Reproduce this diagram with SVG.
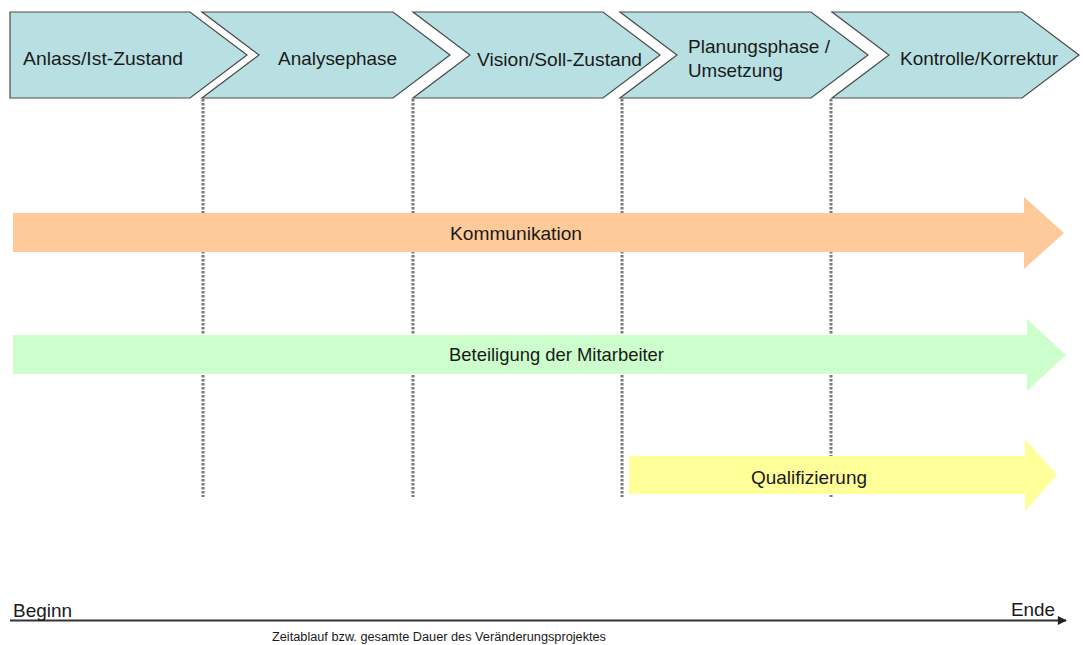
<svg xmlns="http://www.w3.org/2000/svg" width="1083" height="645" viewBox="0 0 1083 645">
<defs>
<style>
.chev{fill:#B8DFE2;stroke:#4a4a4a;stroke-width:1.2;}
.lbl{font-family:"Liberation Sans",Arial,sans-serif;font-size:18.5px;fill:#1a1a1a;}
.small{font-family:"Liberation Sans",Arial,sans-serif;font-size:12.5px;fill:#1a1a1a;}
.dot{stroke:#7a7a7a;stroke-width:3;stroke-dasharray:2.5 1.5;fill:none;}
</style>
<marker id="ah" viewBox="0 0 10 10" refX="9" refY="5" markerWidth="10" markerHeight="9" markerUnits="userSpaceOnUse" orient="auto">
<path d="M0,0 L10,5 L0,10 Z" fill="#222"/>
</marker>
</defs>
<rect width="1083" height="645" fill="#fff"/>
<g id="connectors">
<line class="dot" x1="203" y1="99" x2="203" y2="497"/>
<line class="dot" x1="413" y1="99" x2="413" y2="497"/>
<line class="dot" x1="622" y1="99" x2="622" y2="497"/>
<line class="dot" x1="831" y1="99" x2="831" y2="497"/>
</g>
<g id="phase1">
<polygon class="chev" points="10,12 190,12 247,55 190,98 10,98"/>
<text class="lbl" x="23" y="65" textLength="160" lengthAdjust="spacingAndGlyphs">Anlass/Ist-Zustand</text>
</g>
<g id="phase2">
<polygon class="chev" points="202,12 393,12 450,55 393,98 202,98 259,55"/>
<text class="lbl" x="278" y="65" textLength="119" lengthAdjust="spacingAndGlyphs">Analysephase</text>
</g>
<g id="phase3">
<polygon class="chev" points="413,12 603,12 660,55 603,98 413,98 470,55"/>
<text class="lbl" x="477" y="66" textLength="165" lengthAdjust="spacingAndGlyphs">Vision/Soll-Zustand</text>
</g>
<g id="phase4">
<polygon class="chev" points="620,12 811,12 868,55 811,98 620,98 677,55"/>
<text class="lbl" x="688" y="53" textLength="142" lengthAdjust="spacingAndGlyphs">Planungsphase /</text>
<text class="lbl" x="688" y="77" textLength="95" lengthAdjust="spacingAndGlyphs">Umsetzung</text>
</g>
<g id="phase5">
<polygon class="chev" points="832,12 1022,12 1079,55 1022,98 832,98 889,55"/>
<text class="lbl" x="900" y="65" textLength="158" lengthAdjust="spacingAndGlyphs">Kontrolle/Korrektur</text>
</g>
<g id="kommunikation">
<polygon fill="#FFCA99" points="13,213 1024,213 1024,197 1064,233 1024,269 1024,252 13,252"/>
<text class="lbl" x="450" y="240" textLength="132" lengthAdjust="spacingAndGlyphs">Kommunikation</text>
</g>
<g id="beteiligung">
<polygon fill="#CCFFCC" points="13,335 1027,335 1027,319 1066,355 1027,391 1027,374 13,374"/>
<text class="lbl" x="449" y="361" textLength="215" lengthAdjust="spacingAndGlyphs">Beteiligung der Mitarbeiter</text>
</g>
<g id="qualifizierung">
<polygon fill="#FFFF99" points="629,456 1025,456 1025,439 1057,475 1025,511 1025,494 629,494"/>
<text class="lbl" x="751" y="484" textLength="116" lengthAdjust="spacingAndGlyphs">Qualifizierung</text>
</g>
<g id="timeline">
<line x1="10" y1="620.5" x2="1066" y2="620.5" stroke="#333" stroke-width="2" marker-end="url(#ah)"/>
<text class="lbl" x="13" y="617" textLength="59" lengthAdjust="spacingAndGlyphs">Beginn</text>
<text class="lbl" x="1011" y="616" textLength="44" lengthAdjust="spacingAndGlyphs">Ende</text>
<text class="small" x="272" y="641" textLength="334" lengthAdjust="spacingAndGlyphs">Zeitablauf bzw. gesamte Dauer des Veränderungsprojektes</text>
</g>
</svg>
